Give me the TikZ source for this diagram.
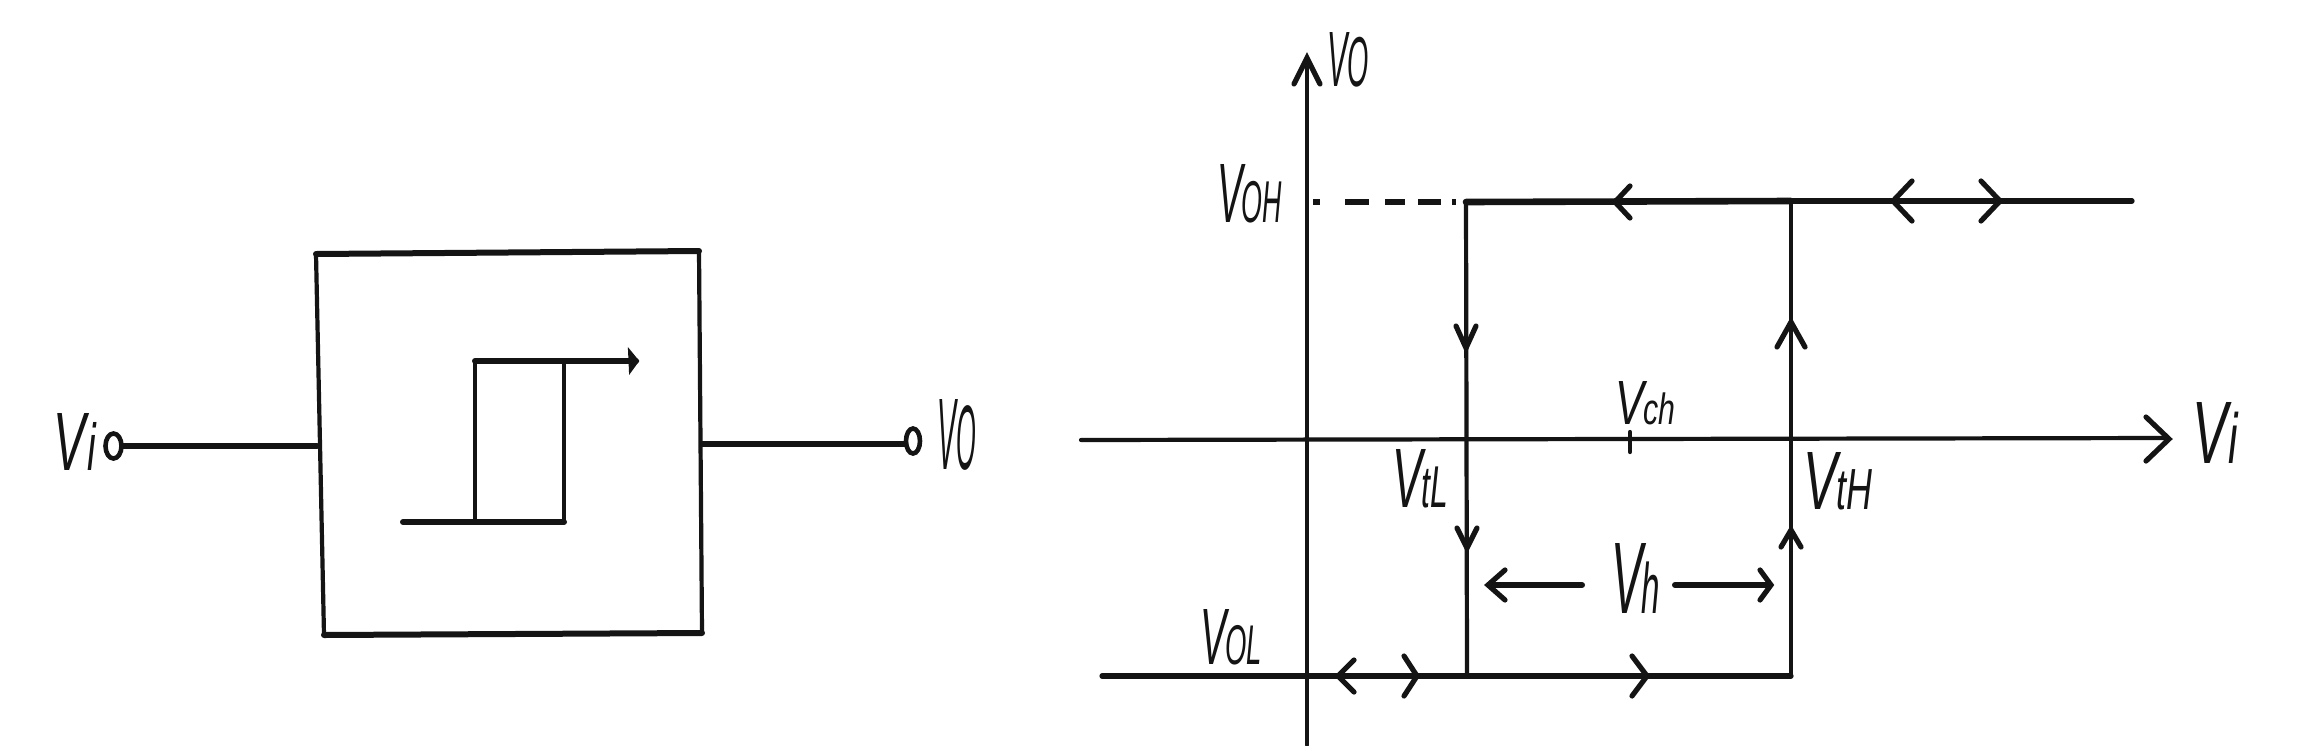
\documentclass[tikz,border=0pt]{standalone}
\usepackage{graphicx}
\usepackage{fontspec}
\setmainfont{Liberation Sans}
\colorlet{ink}{black!92}
\tikzset{
  thinline/.style={draw=ink,line width=4.2*0.01cm,line cap=round,line join=round},
  thickline/.style={draw=ink,line width=6*0.01cm,line cap=round,line join=round},
  headline/.style={draw=ink,line width=5.2*0.01cm,line cap=round,line join=miter,fill=none},
  lbl/.style={anchor=south west,inner sep=0pt,outer sep=0pt,text=ink},
  termline/.style={draw=ink,line width=4.6*0.01cm,fill=white}
}
\newcommand{\px}[1]{\dimexpr #1\dimexpr 0.01cm\relax\relax}
\newcommand{\hh}[4]{\draw[headline] (#1+#3,#2-#4)--(#1,#2)--(#1+#3,#2+#4);}
\newcommand{\vv}[4]{\draw[headline] (#1-#3,#2+#4)--(#1,#2)--(#1+#3,#2+#4);}
\newcommand{\fit}[3]{\resizebox{\px{#1}}{\px{#2}}{\itshape #3}}
\newcommand{\hand}[4]{\fit{#1}{#2}{V\kern#4em{\scriptsize #3}}}
\begin{document}
\begin{tikzpicture}[x=0.01cm,y=-0.01cm]
\useasboundingbox[fill=white] (0,0) rectangle (2300,745);
% left block
\coordinate (tl) at (316,254); \coordinate (tr) at (699,251);
\coordinate (br) at (702,633); \coordinate (bl) at (324,635);
\coordinate (il) at (317,446); \coordinate (ir) at (702,444);
\draw[thinline] (tl)--(bl);
\draw[thinline] (tr)--(br);
\draw[thickline] (tl)--(tr);
\draw[thickline] (bl)--(br);
\draw[termline] (113.5,446) ellipse [x radius=8,y radius=12.5];
\draw[termline] (913,441) ellipse [x radius=7,y radius=12.5];
\coordinate (inw) at (122,446); \coordinate (outw) at (905,444);
\draw[thickline] (inw)--(il);
\draw[thickline] (ir)--(outw);
\node[lbl] (vi) at (54,470) {\hand{42}{57}{\footnotesize i}{.02}};
\node[lbl] (vo) at (937,470) {\hand{39}{70}{\small O}{.02}};
% hysteresis symbol
\coordinate (sa) at (403,522); \coordinate (sb) at (475,522); \coordinate (sc) at (564,522);
\coordinate (sd) at (475,361); \coordinate (se) at (564,361); \coordinate (sf) at (636,361);
\draw[thickline] (sa)--(sc);
\draw[thickline] (sd)--(sf);
\draw[thinline] (sb)--(sd);
\draw[thinline] (sc)--(se);
\draw[fill=ink,draw=ink,line width=.02cm] (638,361)--(629,350)--(630,372)--cycle;
% axes
\coordinate (ybot) at (1307,745); \coordinate (ytop) at (1307,60);
\coordinate (xl) at (1081,440); \coordinate (xr) at (2167,438);
\draw[thinline] (ybot)--(ytop);
\draw[thinline] (xl)--(xr);
\vv{1307}{58}{13}{26}
\hh{2169}{439}{-23}{22}
\node[lbl] (lvo) at (1327,87) {\hand{42}{54}{\small O}{.02}};
\node[lbl] (lvi) at (2192,463) {\hand{46}{61}{\footnotesize i}{.02}};
% loop
\coordinate (a) at (1466,202); \coordinate (b) at (1791,201); \coordinate (c) at (2132,201);
\coordinate (d) at (1467,676); \coordinate (e) at (1791,676); \coordinate (f) at (1102,676);
\coordinate (dash0) at (1313,202); \coordinate (dash1) at (1456,202);
\draw[thickline,line cap=butt,dash pattern=on .07cm off .25cm on .24cm off .16cm on .20cm off .13cm on .23cm off .11cm on .04cm] (dash0)--(dash1);
\draw[thickline,line width=6.6*0.01cm] (a)--(b);
\draw[thinline,line width=5.2*0.01cm] (b)--(c);
\draw[thinline] (a)--(d);
\draw[thinline] (b)--(e);
\draw[thinline,line width=5.2*0.01cm] (f)--(e);
% arrowheads
\hh{1615}{202}{15}{16}
\hh{1893}{201}{19}{20}
\hh{2000}{201}{-19}{20}
\hh{1338}{676}{16}{16}
\hh{1417}{676}{-13}{20}
\hh{1647}{676}{-15}{20}
\vv{1466}{348}{10}{-22}
\vv{1467}{548}{10}{-20}
\vv{1791}{322}{14}{25}
\vv{1791}{530}{10}{17}
% tick
\coordinate (t1) at (1630,432); \coordinate (t2) at (1630,452);
\draw[thinline] (t1)--(t2);
% Vh dimension
\coordinate (h1) at (1582,585); \coordinate (h2) at (1490,585);
\coordinate (h3) at (1675,585); \coordinate (h4) at (1769,585);
\draw[thickline] (h1)--(h2);
\draw[thickline] (h3)--(h4);
\hh{1488}{585}{17}{15}
\hh{1771}{585}{-11}{15}
% labels
\node[lbl] (voh) at (1217,223) {\hand{65}{58}{OH}{-.02}};
\node[lbl] (vol) at (1200,665) {\hand{62}{55}{OL}{-.02}};
\node[lbl] (vch) at (1615,425) {\hand{60}{43}{ch}{-.02}};
\node[lbl] (vtl) at (1392,508) {\hand{56}{58}{tL}{-.02}};
\node[lbl] (vth) at (1803,510) {\hand{69}{57}{tH}{-.02}};
\node[lbl] (vh) at (1611,613) {\hand{49}{70}{h}{-.02}};
\end{tikzpicture}
\end{document}
